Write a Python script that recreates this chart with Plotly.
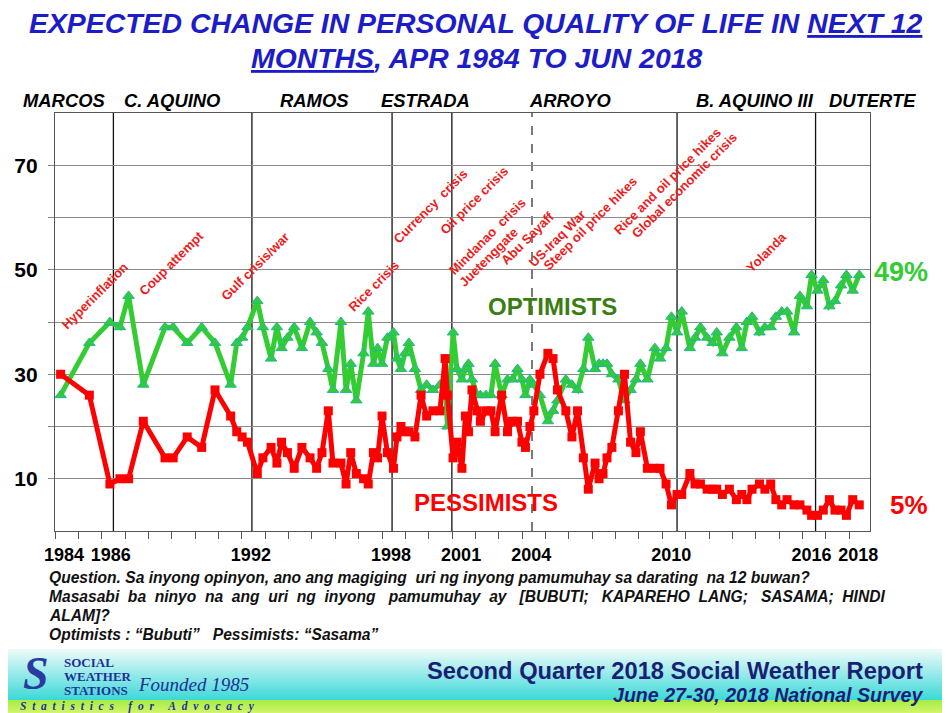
import plotly.graph_objects as go

# ---------------- DATA ----------------
survey_time = [1984.24, 1985.47, 1986.35, 1986.78, 1987.15, 1987.78, 1988.71, 1989.06, 1989.66, 1990.28,
               1990.85, 1991.52, 1991.78, 1992.01, 1992.24, 1992.66, 1992.90, 1993.25, 1993.50, 1993.70,
               1993.95, 1994.24, 1994.57, 1994.92, 1995.20, 1995.43, 1995.70, 1995.90, 1996.24, 1996.46,
               1996.66, 1996.90, 1997.21, 1997.41, 1997.63, 1997.81, 1998.00, 1998.23, 1998.49, 1998.64,
               1998.81, 1998.98, 1999.15, 1999.41, 1999.67, 1999.91, 2000.18, 2000.48, 2000.70, 2000.80,
               2001.04, 2001.21, 2001.42, 2001.57, 2001.70, 2001.85, 2002.07, 2002.21, 2002.45, 2002.66,
               2002.84, 2003.12, 2003.37, 2003.58, 2003.80, 2003.99, 2004.14, 2004.33, 2004.50, 2004.76,
               2005.10, 2005.32, 2005.51, 2005.87, 2006.13, 2006.37, 2006.62, 2006.83, 2007.12, 2007.29,
               2007.46, 2007.63, 2007.84, 2008.12, 2008.38, 2008.64, 2008.87, 2009.06, 2009.36, 2009.68,
               2009.90, 2010.16, 2010.39, 2010.63, 2010.83, 2011.18, 2011.40, 2011.63, 2011.92, 2012.15,
               2012.33, 2012.57, 2012.87, 2013.17, 2013.40, 2013.62, 2013.84, 2014.16, 2014.39, 2014.64,
               2014.86, 2015.11, 2015.34, 2015.64, 2015.89, 2016.19, 2016.39, 2016.64, 2016.89, 2017.15,
               2017.39, 2017.65, 2017.88, 2018.15, 2018.43]

optimists = [26, 36, 40, 39, 45, 28, 39, 39, 36, 39,
             36, 28, 36, 37, 39, 44, 39, 33, 39, 35,
             37, 39, 35, 40, 38, 36, 31, 27, 40, 27,
             32, 25, 34, 42, 32, 35, 32, 37, 38, 33,
             31, 34, 36, 31, 27, 28, 27, 28, 29, 20,
             38, 31, 29, 31, 32, 29, 26, 26, 26, 26,
             32, 26, 29, 29, 31, 29, 26, 29, 28, 26,
             21, 23, 25, 29, 28, 27, 31, 37, 31, 32,
             32, 32, 30, 29, 25, 27, 29, 32, 29, 35,
             33, 35, 41, 38, 42, 35, 37, 39, 37, 36,
             38, 34, 37, 39, 35, 40, 41, 38, 39, 39,
             41, 42, 42, 38, 45, 43, 49, 46, 48, 43,
             44, 47, 49, 46, 49]

pessimists = [30, 26, 9, 10, 10, 21, 14, 14, 18, 16,
              27, 22, 19, 18, 17, 11, 14, 16, 13, 17,
              15, 12, 16, 14, 12, 15, 23, 13, 13, 9,
              15, 11, 10, 9, 15, 14, 22, 15, 12, 18,
              20, 19, 19, 18, 26, 22, 23, 23, 33, 26,
              14, 17, 12, 22, 19, 27, 23, 21, 23, 23,
              19, 26, 19, 21, 21, 17, 16, 20, 23, 30,
              34, 33, 27, 23, 18, 23, 14, 8, 13, 10,
              11, 14, 16, 23, 30, 17, 15, 19, 12, 12,
              12, 9, 5, 7, 7, 11, 9, 9, 8, 8,
              8, 7, 8, 6, 7, 6, 8, 9, 8, 9,
              6, 5, 6, 5, 5, 4, 3, 3, 4, 6,
              4, 4, 3, 6, 5]

term_starts = [1986.50, 1992.43, 1998.43, 2000.99, 2010.63, 2016.56]
second_term_start = [2004.42]
presidents = ["MARCOS", "C. AQUINO", "RAMOS", "ESTRADA", "ARROYO", "B. AQUINO III", "DUTERTE"]
year_labels = [1984, 1986, 1992, 1998, 2001, 2004, 2010, 2016, 2018]
minor_years = list(range(1984, 2019))
y_labels = [10, 30, 50, 70]
y_grid = [10, 20, 30, 40, 50, 60, 70]
events = ["Hyperinflation", "Coup attempt", "Gulf crisis/war", "Rice crisis", "Currency&nbsp; crisis",
          "Oil price crisis", "Mindanao&nbsp; crisis", "Juetenggate", "Abu Sayaff", "US-Iraq War",
          "Steep oil price hikes", "Rice and oil price hikes", "Global economic crisis", "Yolanda"]
latest_opt_label = "49%"
latest_pes_label = "5%"

# ---------------- LAYOUT HELPERS ----------------
# The page body adds an 8px offset; positions below are screen pixels.
OFF = 8
W_FIG, H_FIG = 950, 713
L, R, T, B = 55, 870, 113, 531          # plot area on screen
PW, PH = R - L, B - T


def px(x):
    return (x - L) / PW


def py(y):
    return (B - y) / PH


FONT = "Liberation Sans, Arial, sans-serif"
SERIF = "Liberation Serif, Times New Roman, serif"
GREEN = "#33cc33"
RED = "#ff0000"
EVENT_RED = "#ee1c1c"
NAVY = "#1b1f74"
LOGO = "#1f2f96"

fig = go.Figure()

fig.add_trace(go.Scatter(
    x=survey_time, y=optimists, mode="lines+markers", name="Optimists",
    line=dict(color=GREEN, width=5),
    marker=dict(symbol="triangle-up", size=10, color=GREEN, line=dict(color="#22b59a", width=1)),
    showlegend=False, cliponaxis=False))
fig.add_trace(go.Scatter(
    x=survey_time, y=pessimists, mode="lines+markers", name="Pessimists",
    line=dict(color=RED, width=5),
    marker=dict(symbol="square", size=9, color=RED),
    showlegend=False, cliponaxis=False))

shapes = []
for t in term_starts:
    shapes.append(dict(type="line", xref="x", yref="paper", x0=t, x1=t, y0=0, y1=1,
                       line=dict(color="#111111", width=1.3), layer="below"))
for t in second_term_start:
    shapes.append(dict(type="line", xref="x", yref="paper", x0=t, x1=t, y0=0, y1=1,
                       line=dict(color="#333333", width=1.3, dash="dash"), layer="below"))


def lerp(c1, c2, f):
    return tuple(int(round(a + (b - a) * f)) for a, b in zip(c1, c2))


top_c, mid_c, bot_c = (236, 250, 250), (140, 232, 232), (56, 216, 214)
y_start, y_mid, y_green = 649, 676, 700
step = 2
y = y_start
while y < y_green:
    if y < y_mid:
        c = lerp(top_c, mid_c, (y - y_start) / (y_mid - y_start))
    else:
        c = lerp(mid_c, bot_c, (y - y_mid) / (y_green - y_mid))
    shapes.append(dict(type="rect", xref="paper", yref="paper", x0=px(0), x1=px(W_FIG + 20),
                       y0=py(y + step + 0.5), y1=py(y), fillcolor="rgb(%d,%d,%d)" % c,
                       line=dict(width=0), layer="below"))
    y += step
g1, g2 = (168, 236, 70), (214, 246, 110)
y = y_green
while y < H_FIG + 10:
    c = lerp(g1, g2, min(1, (y - y_green) / (H_FIG - y_green)))
    shapes.append(dict(type="rect", xref="paper", yref="paper", x0=px(0), x1=px(W_FIG + 20),
                       y0=py(y + step + 0.5), y1=py(y), fillcolor="rgb(%d,%d,%d)" % c,
                       line=dict(width=0), layer="below"))
    y += step

ann = []


def text(x, y, s, size, color, family=FONT, xanchor="center", angle=0):
    ann.append(dict(x=px(x), y=py(y), xref="paper", yref="paper", showarrow=False, text=s,
                    textangle=angle, font=dict(family=family, size=size, color=color),
                    xanchor=xanchor, yanchor="middle"))


# title
TITLE_BLUE = "#1c1cc8"
text(476, 23, "<b><i>EXPECTED CHANGE IN PERSONAL QUALITY OF LIFE IN <u>NEXT 12</u></i></b>", 28.4, TITLE_BLUE)
text(476, 58, "<b><i><u>MONTHS</u>, APR 1984 TO JUN 2018</i></b>", 28.4, TITLE_BLUE)

# president labels
pres_x = [64, 172, 314, 425, 570, 755, 872]
for name, xx in zip(presidents, pres_x):
    text(xx, 100, "<b><i>%s</i></b>" % name, 18.4, "#000000")

# event labels
event_pos = [(94, 296), (171, 263), (255, 266), (373, 286), (430, 206), (474, 200), (487, 236),
             (488, 257), (527, 238), (557, 238), (590, 223), (667, 181), (684, 185), (766, 252)]
for ev, (ex, ey) in zip(events, event_pos):
    text(ex, ey, "<b>%s</b>" % ev, 13, EVENT_RED, angle=-45)

text(552, 306, "<b>OPTIMISTS</b>", 24, "#3a7d12")
text(486, 502, "<b>PESSIMISTS</b>", 24, RED)
text(901, 272, "<b>%s</b>" % latest_opt_label, 27, GREEN)
text(909, 505, "<b>%s</b>" % latest_pes_label, 26, RED)

# question text
D = "&nbsp; "
TR = "&nbsp;&nbsp; "
q_lines = ["Question. Sa inyong opinyon, ano ang magiging&nbsp; uri ng inyong pamumuhay sa darating&nbsp; na 12 buwan?",
           "Masasabi" + D + "ba" + D + "ninyo" + D + "na" + D + "ang" + D + "uri" + D + "ng" + D + "inyong" + TR
           + "pamumuhay" + D + "ay" + TR + "[BUBUTI;" + TR + "KAPAREHO" + D + "LANG;" + TR + "SASAMA;" + D + "HINDI",
           "ALAM]?",
           "Optimists : \u201cBubuti\u201d &nbsp; Pessimists: \u201cSasama\u201d"]
q_y = [577, 596, 615, 634]
for line, yy in zip(q_lines, q_y):
    text(47, yy, "<b><i>%s</i></b>" % line, 15.6, "#111111", xanchor="left")

# footer
text(925, 671, "<b>Second Quarter 2018 Social Weather Report</b>", 23.7, NAVY, xanchor="right")
text(925, 695, "<b><i>June 27-30, 2018 National Survey</i></b>", 19.6, NAVY, xanchor="right")
text(36, 673, "<b><i>S</i></b>", 46, "#2a3a9e", family=SERIF)
for word, yy in zip(["SOCIAL", "WEATHER", "STATIONS"], [662, 676, 690]):
    text(62, yy, "<b>%s</b>" % word, 13, LOGO, family=SERIF, xanchor="left")
text(136, 684, "<i>Founded 1985</i>", 19, LOGO, family=SERIF, xanchor="left")
spaced = "&nbsp;&nbsp;&nbsp;&nbsp;&nbsp;".join("&nbsp;&nbsp;".join(list(w)) for w in ["Statistics", "for", "Advocacy"])
text(18, 706, "<b><i>%s</i></b>" % spaced, 11.5, LOGO, family=SERIF, xanchor="left")

fig.update_layout(
    width=W_FIG, height=H_FIG,
    margin=dict(l=L - OFF, r=W_FIG - (R - OFF), t=T - OFF, b=H_FIG - (B - OFF), pad=0),
    paper_bgcolor="white", plot_bgcolor="white",
    shapes=shapes, annotations=ann,
    xaxis=dict(range=[1984, 2018.89], tickmode="array", tickvals=year_labels,
               ticktext=[str(v) for v in year_labels], ticks="outside", ticklen=7,
               tickcolor="#555555", ticklabelshift=9, ticklabelstandoff=0,
               tickfont=dict(family=FONT, size=18, color="#000000", weight="bold"),
               showgrid=False, zeroline=False, showline=True, linecolor="#555555", linewidth=1.2,
               mirror=True, automargin=False,
               minor=dict(tickmode="array", tickvals=minor_years, ticks="outside", ticklen=7,
                          tickcolor="#555555", showgrid=False)),
    yaxis=dict(range=[0, 80], tickmode="array", tickvals=y_grid,
               ticktext=[str(v) if v in y_labels else "" for v in y_grid],
               ticks="outside", ticklen=6, tickcolor="#888888", ticklabelstandoff=6,
               tickfont=dict(family=FONT, size=21, color="#000000", weight="bold"),
               showgrid=True, gridcolor="#8a8a8a", gridwidth=1, zeroline=False, automargin=False,
               showline=True, linecolor="#555555", linewidth=1.2, mirror=True),
)

fig.write_html("out.html")
